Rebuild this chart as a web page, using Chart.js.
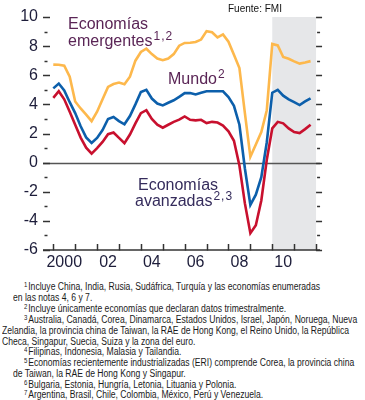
<!DOCTYPE html>
<html><head><meta charset="utf-8">
<script src="https://cdn.jsdelivr.net/npm/chart.js@4.4.0/dist/chart.umd.min.js"></script>
<style>
html,body{margin:0;padding:0;background:#fff;width:365px;height:400px;overflow:hidden;}
#wrap{position:relative;width:365px;height:400px;}
canvas{position:absolute;left:0;top:0;}
.lab{position:absolute;font-family:"Liberation Sans",Arial,sans-serif;font-size:16px;line-height:16px;white-space:nowrap;}
.lab .s{font-size:12px;position:relative;top:-6px;letter-spacing:1px;margin-left:1px;}
.src{position:absolute;left:228px;top:4px;font-family:"Liberation Sans",Arial,sans-serif;font-size:10px;line-height:10px;color:#111;white-space:nowrap;}
.fn{position:absolute;font-family:"Liberation Sans",Arial,sans-serif;font-size:10px;line-height:10px;color:#1a1a1a;white-space:nowrap;transform-origin:0 0;}
.fn .s{font-size:7px;position:relative;top:-3px;margin-right:1px;}
</style></head>
<body><div id="wrap">
<canvas id="c" width="365" height="280"></canvas>
<div class="lab" style="left:68px;top:16px;color:#5a2556">Economías</div>
<div class="lab" style="left:68px;top:33px;color:#5a2556">emergentes<span class="s">1,2</span></div>
<div class="lab" style="left:168px;top:71px;color:#5a2556">Mundo<span class="s">2</span></div>
<div class="lab" style="left:138px;top:177px;color:#352c5c">Economías</div>
<div class="lab" style="left:135px;top:193px;color:#352c5c">avanzadas<span class="s">2,3</span></div>
<div class="src">Fuente: FMI</div>
<div id="notes"></div>
</div>
<script>
const quarters = [
 "2000T1","2000T2","2000T3","2000T4","2001T1","2001T2","2001T3","2001T4",
 "2002T1","2002T2","2002T3","2002T4","2003T1","2003T2","2003T3","2003T4",
 "2004T1","2004T2","2004T3","2004T4","2005T1","2005T2","2005T3","2005T4",
 "2006T1","2006T2","2006T3","2006T4","2007T1","2007T2","2007T3","2007T4",
 "2008T1","2008T2","2008T3","2008T4","2009T1","2009T2","2009T3","2009T4",
 "2010T1","2010T2","2010T3","2010T4","2011T1","2011T2","2011T3","2011T4"];
const emergentes = [
 6.73,6.72,6.65,5.9, 4.2,3.72,3.3,2.85, 3.5,4.35,5.2,5.4, 5.5,5.38,5.9,7.0,
 7.6,7.82,7.45,7.15, 7.03,7.15,7.45,8.03, 8.22,8.23,8.28,8.45, 9.03,8.95,8.6,8.8,
 8.3,7.4,6.5,3.4, 0.4,1.25,2.1,3.6, 8.15,8.05,7.25,7.13, 6.95,6.8,6.88,6.97];
const mundo = [
 5.1,5.43,4.95,4.15, 3.4,2.5,1.73,1.35, 1.7,2.24,3.0,3.13, 2.85,2.63,3.2,4.0,
 4.85,5.0,4.4,4.06, 3.93,4.11,4.28,4.52, 4.77,4.78,4.68,4.8, 4.9,4.9,4.9,4.9,
 4.5,3.9,2.6,-0.4, -2.9,-2.2,-1.0,1.4, 4.8,5.0,4.6,4.35, 4.15,3.95,4.2,4.42];
const avanzadas = [
 4.45,4.9,4.35,3.5, 2.6,1.72,1.03,0.62, 0.99,1.42,1.95,2.07, 1.7,1.33,1.93,2.7,
 3.4,3.6,3.0,2.6, 2.4,2.6,2.8,2.95, 3.17,2.94,2.9,2.94, 2.72,2.8,2.75,2.55,
 2.15,1.5,-0.2,-2.8, -4.85,-4.3,-2.6,0.2, 2.35,2.8,2.7,2.35, 2.1,2.03,2.3,2.6];
const yMajorTicks = [-6,-4,-2,0,2,4,6,8,10];
const yMinorTicks = [-5,-3,-1,1,3,5,7,9];
const yearTicks = [2000,2001,2002,2003,2004,2005,2006,2007,2008,2009,2010,2011,2012];
const xLabelYears = [2000,2002,2004,2006,2008,2010];
const xLabels = ["2000","02","04","06","08","10"];
const shadeRange = [2010,2012];
const footnotes = [
 {sup:"1", text:"Incluye China, India, Rusia, Sudáfrica, Turquía y las economías enumeradas", x:24, y:282},
 {sup:"",  text:"en las notas 4, 6 y 7.", x:13, y:293},
 {sup:"2", text:"Incluye únicamente economías que declaran datos trimestralmente.", x:24, y:304},
 {sup:"3", text:"Australia, Canadá, Corea, Dinamarca, Estados Unidos, Israel, Japón, Noruega, Nueva", x:24, y:315},
 {sup:"",  text:"Zelandia, la provincia china de Taiwan, la RAE de Hong Kong, el Reino Unido, la República", x:2, y:326},
 {sup:"",  text:"Checa, Singapur, Suecia, Suiza y la zona del euro.", x:2, y:337},
 {sup:"4", text:"Filipinas, Indonesia, Malasia y Tailandia.", x:24, y:347},
 {sup:"5", text:"Economías recientemente industrializadas (ERI) comprende Corea, la provincia china", x:24, y:358},
 {sup:"",  text:"de Taiwan, la RAE de Hong Kong y Singapur.", x:13, y:369},
 {sup:"6", text:"Bulgaria, Estonia, Hungría, Letonia, Lituania y Polonia.", x:24, y:380},
 {sup:"7", text:"Argentina, Brasil, Chile, Colombia, México, Perú y Venezuela.", x:24, y:390}
];
const footnoteFullWidth = 347; // width of the full-width footnote line ("Zelandia ...")

const notes = document.getElementById('notes');
const fnEls = footnotes.map(f => {
  const d = document.createElement('div');
  d.className = 'fn';
  d.style.left = f.x + 'px';
  d.style.top = f.y + 'px';
  d.innerHTML = (f.sup ? '<span class="s">' + f.sup + '</span>' : '') + f.text;
  notes.appendChild(d);
  return d;
});
const k = footnoteFullWidth / fnEls[4].getBoundingClientRect().width;
fnEls.forEach(d => { d.style.transform = 'scaleX(' + k + ')'; });

const qx = q => parseInt(q.slice(0,4)) + (parseInt(q.slice(5)) - 1) / 4;
const pts = arr => arr.map((v,i) => ({x: qx(quarters[i]), y: v}));
const FONT = '"Liberation Sans", Arial, sans-serif';
const TXT = '#1d1d3a';

const decor = {
  id: 'decor',
  beforeDatasetsDraw(chart) {
    const {ctx, chartArea: a, scales: {x, y}} = chart;
    ctx.save();
    const x0 = x.getPixelForValue(shadeRange[0]);
    const x1 = x.getPixelForValue(shadeRange[1]);
    const yt = y.getPixelForValue(10), yb = y.getPixelForValue(-6);
    ctx.fillStyle = '#e6e7e9';
    ctx.fillRect(x0, yt, x1 - x0, yb - yt);
    const y0 = Math.round(y.getPixelForValue(0)) + 0.5;
    ctx.strokeStyle = '#555';
    ctx.lineWidth = 1.5;
    ctx.beginPath(); ctx.moveTo(a.left, y0); ctx.lineTo(a.right, y0); ctx.stroke();
    ctx.restore();
  },
  afterDatasetsDraw(chart) {
    const {ctx, chartArea: a, scales: {x, y}} = chart;
    ctx.save();
    ctx.strokeStyle = '#333';
    ctx.lineWidth = 1.5;
    const yb = y.getPixelForValue(-6);
    ctx.beginPath(); ctx.moveTo(a.left, yb); ctx.lineTo(a.right, yb); ctx.stroke();
    yearTicks.forEach(t => {
      const px = Math.round(x.getPixelForValue(t)) + 0.5;
      ctx.beginPath(); ctx.moveTo(px, yb - 6); ctx.lineTo(px, yb + 0.5); ctx.stroke();
    });
    const xr = x.getPixelForValue(shadeRange[1]);
    yMajorTicks.forEach(t => {
      const py = Math.round(y.getPixelForValue(t)) + 0.5;
      ctx.beginPath(); ctx.moveTo(a.left, py); ctx.lineTo(a.left + 7, py); ctx.stroke();
      ctx.beginPath(); ctx.moveTo(xr, py); ctx.lineTo(xr + 6, py); ctx.stroke();
    });
    yMinorTicks.forEach(t => {
      const py = Math.round(y.getPixelForValue(t)) + 0.5;
      ctx.beginPath(); ctx.moveTo(a.left + 1.5, py); ctx.lineTo(a.left + 4.5, py); ctx.stroke();
      ctx.beginPath(); ctx.moveTo(xr + 1, py); ctx.lineTo(xr + 4, py); ctx.stroke();
    });
    ctx.restore();
  }
};

new Chart(document.getElementById('c'), {
  type: 'line',
  data: {
    datasets: [
      {label: 'Economías emergentes', data: pts(emergentes), borderColor: '#fdb84c', borderWidth: 2.6, pointRadius: 0, tension: 0, fill: false},
      {label: 'Mundo', data: pts(mundo), borderColor: '#0c5fab', borderWidth: 2.6, pointRadius: 0, tension: 0, fill: false},
      {label: 'Economías avanzadas', data: pts(avanzadas), borderColor: '#c8102e', borderWidth: 2.6, pointRadius: 0, tension: 0, fill: false}
    ]
  },
  options: {
    responsive: false, animation: false, devicePixelRatio: 1,
    layout: {padding: {top: 17, right: 45, left: 0, bottom: 0}},
    plugins: {legend: {display: false}, tooltip: {enabled: false}},
    scales: {
      x: {
        type: 'linear', min: 1999.53, max: 2012.18,
        afterBuildTicks: s => { s.ticks = xLabelYears.map(v => ({value: v + 0.5})); },
        afterFit: s => { s.height = 30; },
        grid: {display: false, drawTicks: false}, border: {display: false},
        ticks: {autoSkip: false, maxRotation: 0, padding: 3, color: TXT, font: {family: FONT, size: 16},
          callback: (v, i) => xLabels[i]}
      },
      y: {
        min: -6, max: 10,
        afterBuildTicks: s => { s.ticks = yMajorTicks.map(v => ({value: v})); },
        afterFit: s => { s.width = 43; },
        grid: {display: false, drawTicks: false}, border: {display: false},
        ticks: {padding: 5, color: TXT, font: {family: FONT, size: 16}, callback: v => String(v)}
      }
    }
  },
  plugins: [decor]
});
</script>
</body></html>
